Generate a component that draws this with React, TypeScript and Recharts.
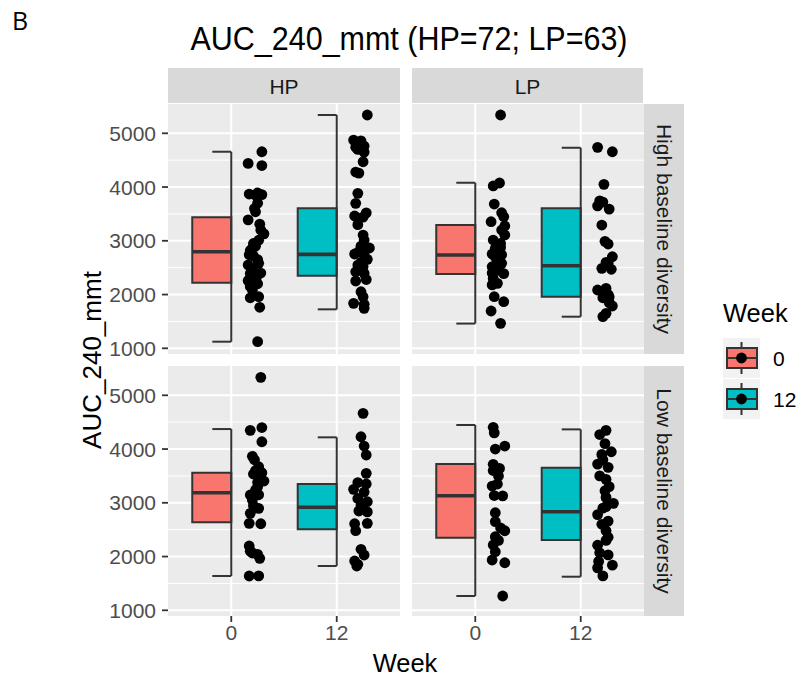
import React from "react";
import { ComposedChart, Scatter, XAxis, YAxis, CartesianGrid, ReferenceArea, ReferenceLine } from "recharts";

const weekLabels = ["0", "12"];
const facetCols = ["HP", "LP"];
const facetRows = ["High baseline diversity", "Low baseline diversity"];
const yTicks = [1000, 2000, 3000, 4000, 5000];
const yMinorTicks = [1500, 2500, 3500, 4500];

// [lower whisker, Q1, median, Q3, upper whisker] for week 0 and week 12
const hpHighBox = [[1123, 2220, 2797, 3437, 4657], [1725, 2350, 2748, 3604, 5340]];
const lpHighBox = [[1460, 2382, 2735, 3293, 4080], [1588, 1960, 2536, 3604, 4731]];
const hpLowBox = [[1638, 2637, 3188, 3560, 4372], [1824, 2507, 2916, 3349, 4218]];
const lpLowBox = [[1266, 2350, 3132, 3721, 4447], [1625, 2308, 2834, 3652, 4366]];

// individual subjects (values) and their horizontal jitter
const hpHighW0 = [4657, 4440, 4400, 3870, 3890, 3860, 3850, 3700, 3540, 3390, 3310, 3130, 3010, 2900, 2860, 2740, 2720, 2580, 2550, 2400, 2390, 2260, 2200, 2085, 1940, 1960, 1763, 1123, 2950, 2650, 2480, 2330, 2820, 3200, 3600, 2150];
const hpHighW0Jit = [0.29, 0.16, 0.29, 0.17, 0.25, 0.29, 0.23, 0.25, 0.23, 0.16, 0.27, 0.31, 0.26, 0.23, 0.2, 0.17, 0.21, 0.26, 0.16, 0.28, 0.18, 0.16, 0.25, 0.2, 0.18, 0.26, 0.27, 0.25, 0.21, 0.25, 0.2, 0.24, 0.18, 0.28, 0.22, 0.18];
const hpHighW12 = [5340, 4874, 4860, 4763, 4740, 4650, 4700, 4471, 4279, 4260, 3883, 3697, 3461, 3520, 3440, 3107, 3014, 2866, 2900, 2754, 2740, 2655, 2549, 2520, 2425, 2395, 2252, 2280, 2053, 1960, 1837, 1820, 1744, 2800, 3300, 2600];
const hpHighW12Jit = [0.29, 0.16, 0.23, 0.26, 0.18, 0.26, 0.2, 0.25, 0.18, 0.21, 0.2, 0.18, 0.17, 0.28, 0.25, 0.25, 0.26, 0.31, 0.23, 0.17, 0.26, 0.29, 0.2, 0.25, 0.18, 0.26, 0.18, 0.28, 0.23, 0.25, 0.16, 0.26, 0.26, 0.21, 0.2, 0.23];

const lpHighW0 = [5340, 4075, 4020, 3684, 3522, 3448, 3355, 3275, 3107, 3014, 2875, 2860, 2754, 2740, 2655, 2581, 2518, 2400, 2390, 2209, 2180, 1960, 1867, 1694, 1465, 2800, 2700, 2950, 2620, 3200, 2300, 2450];
const lpHighW0Jit = [0.24, 0.23, 0.17, 0.18, 0.25, 0.27, 0.15, 0.28, 0.28, 0.17, 0.24, 0.19, 0.16, 0.25, 0.21, 0.25, 0.16, 0.16, 0.27, 0.21, 0.16, 0.18, 0.27, 0.15, 0.24, 0.22, 0.19, 0.24, 0.21, 0.25, 0.17, 0.22];
const lpHighW12 = [4739, 4657, 4050, 3743, 3720, 3590, 3650, 3293, 2990, 2940, 2704, 2581, 2488, 2470, 2085, 2116, 1954, 1940, 1787, 1651, 1590, 2050, 1850, 2600, 2000];
const lpHighW12Jit = [0.16, 0.3, 0.22, 0.18, 0.21, 0.27, 0.16, 0.2, 0.23, 0.26, 0.3, 0.26, 0.2, 0.29, 0.16, 0.24, 0.27, 0.21, 0.3, 0.24, 0.21, 0.23, 0.27, 0.24, 0.26];

const hpLowW0 = [5334, 4348, 4400, 4136, 3864, 3800, 3671, 3535, 3560, 3405, 3380, 3238, 3145, 3150, 3052, 2897, 2804, 2618, 2610, 2196, 2066, 2040, 1967, 1638, 1640, 3300, 3450, 3600, 2950, 2100];
const hpLowW0Jit = [0.28, 0.18, 0.29, 0.29, 0.2, 0.22, 0.26, 0.21, 0.29, 0.31, 0.25, 0.23, 0.18, 0.26, 0.2, 0.26, 0.18, 0.17, 0.28, 0.17, 0.2, 0.25, 0.27, 0.17, 0.26, 0.25, 0.28, 0.23, 0.21, 0.18];
const hpLowW12 = [4664, 4229, 4056, 3889, 3548, 3377, 3350, 3251, 3080, 3020, 2847, 2830, 2618, 2610, 2481, 2135, 2029, 1917, 1855, 1824, 2950, 3200];
const hpLowW12Jit = [0.25, 0.23, 0.26, 0.28, 0.28, 0.2, 0.28, 0.16, 0.2, 0.29, 0.21, 0.29, 0.29, 0.17, 0.18, 0.23, 0.26, 0.17, 0.2, 0.19, 0.23, 0.26];

const lpLowW0 = [4404, 4300, 4056, 4000, 3716, 3640, 3498, 3312, 3135, 3130, 2815, 2531, 2480, 2369, 2215, 2090, 1936, 1885, 1266, 3350, 2650, 2300, 3600];
const lpLowW0Jit = [0.17, 0.18, 0.28, 0.19, 0.17, 0.23, 0.22, 0.16, 0.18, 0.26, 0.19, 0.24, 0.28, 0.19, 0.17, 0.19, 0.16, 0.28, 0.26, 0.21, 0.19, 0.22, 0.17];
const lpLowW12 = [4348, 4270, 4100, 3950, 3900, 3720, 3660, 3500, 3437, 3225, 2990, 2930, 2780, 2660, 2480, 2360, 2210, 2070, 2030, 1910, 1840, 1790, 1640, 3800, 3100, 2600, 3300, 2900, 2300];
const lpLowW12Jit = [0.24, 0.18, 0.23, 0.29, 0.2, 0.16, 0.26, 0.18, 0.24, 0.23, 0.31, 0.24, 0.16, 0.26, 0.24, 0.26, 0.16, 0.18, 0.26, 0.17, 0.3, 0.16, 0.21, 0.21, 0.24, 0.2, 0.27, 0.21, 0.24];

const FILLS = ["#F8766D", "#00BFC4"];
const FONT = "'Liberation Sans', Arial, Helvetica, sans-serif";
const Y_DOMAIN = [894, 5545];
const X_DOMAIN = [0.4, 2.6];
const PANEL_W = 232;
const PANEL_H = 250;
const BOX_W = 0.37;
const CAP_W = 0.18;
const EDGE = "#333333";
const LW = 2;

function toPoints(w0: number[], j0: number[], w12: number[], j12: number[]) {
  return [
    ...w0.map((y, i) => ({ x: 1 + j0[i], y })),
    ...w12.map((y, i) => ({ x: 2 + j12[i], y })),
  ];
}

const Dot = (p: any) => <circle cx={p.cx} cy={p.cy} r={5.4} fill="#000" />;

function Panel({ left, top, box, pts, showY, showX }: any) {
  const yW = showY ? 60 : 0;
  const xH = showX ? 40 : 0;
  return (
    <div style={{ position: "absolute", left: left - yW, top }}>
      <ComposedChart width={PANEL_W + yW} height={PANEL_H + xH} margin={{ top: 0, right: 0, bottom: 0, left: 0 }}>
        <CartesianGrid horizontalValues={yMinorTicks} vertical={false} stroke="#fff" strokeWidth={1} fill="#EBEBEB" />
        <CartesianGrid horizontalValues={yTicks} verticalValues={[1, 2]} stroke="#fff" strokeWidth={2} />
        <XAxis
          type="number" dataKey="x" domain={X_DOMAIN} ticks={[1, 2]} interval={0} allowDataOverflow
          hide={!showX} height={40} axisLine={false} tickSize={6} tickMargin={3}
          tickFormatter={(v: number) => weekLabels[v - 1]}
          tick={{ fill: "#4D4D4D", fontSize: 21, fontFamily: FONT }}
          tickLine={{ stroke: EDGE, strokeWidth: 1.8 }}
        />
        <YAxis
          type="number" dataKey="y" domain={Y_DOMAIN} ticks={yTicks} interval={0} allowDataOverflow
          hide={!showY} width={60} axisLine={false} tickSize={6} tickMargin={6}
          tick={{ fill: "#4D4D4D", fontSize: 21, fontFamily: FONT }}
          tickLine={{ stroke: EDGE, strokeWidth: 1.8 }}
        />
        {box.map((b: number[], i: number) => {
          const pos = i + 1;
          const [lo, q1, med, q3, hi] = b;
          return (
            <React.Fragment key={i}>
              <ReferenceArea x1={pos - BOX_W} x2={pos} y1={q1} y2={q3} fill={FILLS[i]} fillOpacity={1} stroke={EDGE} strokeWidth={LW} />
              <ReferenceLine segment={[{ x: pos - BOX_W, y: med }, { x: pos, y: med }]} stroke={EDGE} strokeWidth={3.6} />
              <ReferenceLine segment={[{ x: pos, y: lo }, { x: pos, y: hi }]} stroke={EDGE} strokeWidth={LW} />
              <ReferenceLine segment={[{ x: pos - CAP_W, y: lo }, { x: pos, y: lo }]} stroke={EDGE} strokeWidth={LW} />
              <ReferenceLine segment={[{ x: pos - CAP_W, y: hi }, { x: pos, y: hi }]} stroke={EDGE} strokeWidth={LW} />
            </React.Fragment>
          );
        })}
        <Scatter data={pts} shape={Dot} isAnimationActive={false} />
      </ComposedChart>
    </div>
  );
}

function LegendKey({ y, fill, label }: any) {
  return (
    <g>
      <rect x={723} y={y - 20} width={37} height={40} fill="#F2F2F2" />
      <line x1={741.5} x2={741.5} y1={y - 16} y2={y + 16} stroke={EDGE} strokeWidth={LW} />
      <rect x={727} y={y - 10} width={30} height={20} fill={fill} stroke={EDGE} strokeWidth={LW} />
      <line x1={727} x2={757} y1={y} y2={y} stroke={EDGE} strokeWidth={2} />
      <circle cx={741.5} cy={y} r={5.4} fill="#000" />
      <text x={773} y={y} dominantBaseline="central" fontSize={21} fontFamily={FONT} fill="#000">{label}</text>
    </g>
  );
}

export default function App() {
  const panels = [
    { left: 168, top: 104, box: hpHighBox, pts: toPoints(hpHighW0, hpHighW0Jit, hpHighW12, hpHighW12Jit), showY: true, showX: false },
    { left: 412, top: 104, box: lpHighBox, pts: toPoints(lpHighW0, lpHighW0Jit, lpHighW12, lpHighW12Jit), showY: false, showX: false },
    { left: 168, top: 366, box: hpLowBox, pts: toPoints(hpLowW0, hpLowW0Jit, hpLowW12, hpLowW12Jit), showY: true, showX: true },
    { left: 412, top: 366, box: lpLowBox, pts: toPoints(lpLowW0, lpLowW0Jit, lpLowW12, lpLowW12Jit), showY: false, showX: true },
  ];
  return (
    <div style={{ position: "absolute", left: 0, top: 0, width: 802, height: 677, background: "#fff", fontFamily: FONT }}>
      <style>{`.recharts-surface { overflow: visible; }`}</style>
      <svg width={802} height={677} style={{ position: "absolute", left: 0, top: 0 }}>
        <text x={12} y={30} fontSize={25} fontFamily="'Open Sans', sans-serif" fill="#000">B</text>
        <text x={409} y={38} textAnchor="middle" dominantBaseline="central" fontSize={34} textLength={437} lengthAdjust="spacingAndGlyphs" fontFamily={FONT} fill="#000">
          AUC_240_mmt (HP=72; LP=63)
        </text>
        {facetCols.map((c, i) => (
          <g key={c}>
            <rect x={i === 0 ? 168 : 412} y={68} width={i === 0 ? 232 : 231} height={35} fill="#D9D9D9" />
            <text x={i === 0 ? 284 : 527.5} y={86} textAnchor="middle" dominantBaseline="central" fontSize={21} fontFamily={FONT} fill="#1A1A1A">{c}</text>
          </g>
        ))}
        {facetRows.map((r, i) => {
          const top = i === 0 ? 104 : 366;
          return (
            <g key={r}>
              <rect x={644} y={top} width={40} height={250} fill="#D9D9D9" />
              <text x={664} y={top + 125} textAnchor="middle" dominantBaseline="central" fontSize={21} fontFamily={FONT} fill="#1A1A1A" transform={`rotate(90 664 ${top + 125})`}>{r}</text>
            </g>
          );
        })}
        <text x={92} y={360} textAnchor="middle" dominantBaseline="central" fontSize={26} fontFamily={FONT} fill="#000" transform="rotate(-90 92 360)">AUC_240_mmt</text>
        <text x={405} y={663} textAnchor="middle" dominantBaseline="central" fontSize={25.5} fontFamily={FONT} fill="#000">Week</text>
        <text x={723} y={313} dominantBaseline="central" fontSize={25.5} fontFamily={FONT} fill="#000">Week</text>
        {weekLabels.map((w, i) => (
          <LegendKey key={w} y={i === 0 ? 358 : 399} fill={FILLS[i]} label={w} />
        ))}
      </svg>
      {panels.map((p, i) => (
        <Panel key={i} {...p} />
      ))}
    </div>
  );
}
